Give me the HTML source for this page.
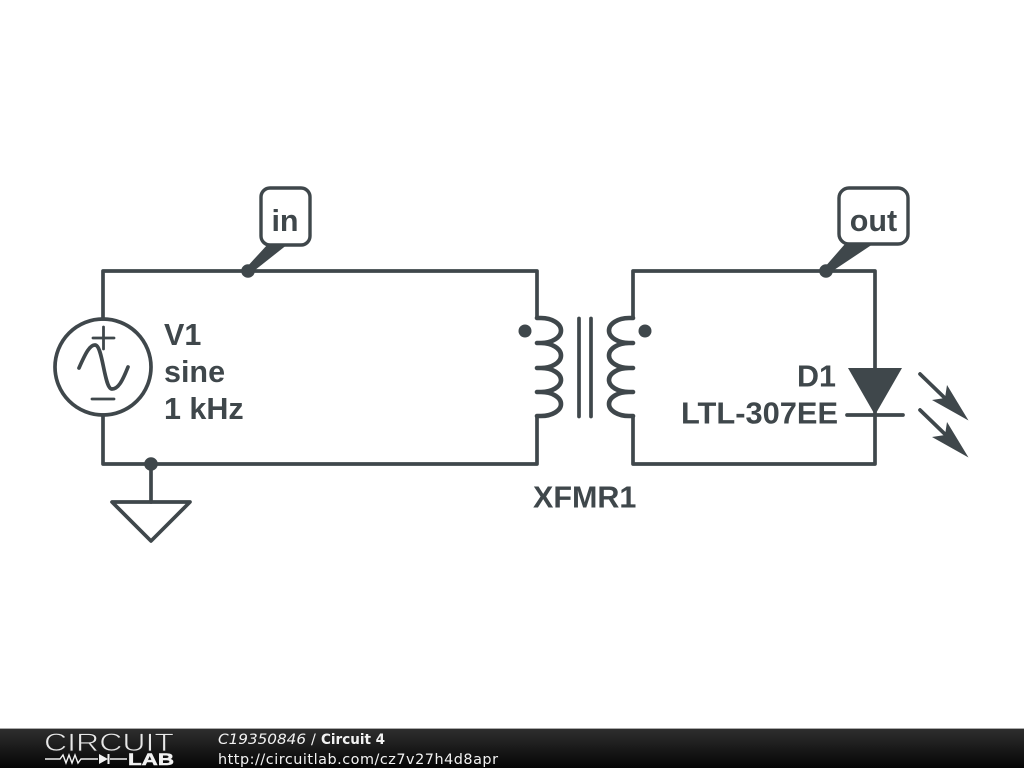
<!DOCTYPE html>
<html>
<head>
<meta charset="utf-8">
<style>
html,body{margin:0;padding:0;background:#fff}
svg{display:block}
.t{font-family:"Liberation Sans",Arial,sans-serif;font-weight:bold;font-size:30.500px;fill:#3f474b}
.f{font-family:"DejaVu Sans",sans-serif;font-size:14.400px;fill:#f2f2f2}
</style>
</head>
<body>
<svg width="1024" height="768" viewBox="0 0 1024 768" xmlns="http://www.w3.org/2000/svg">
<defs>
<linearGradient id="bar" x1="0" y1="0" x2="0" y2="1">
<stop offset="0" stop-color="#2e2e2e"/>
<stop offset="1" stop-color="#050505"/>
</linearGradient>
</defs>
<rect width="1024" height="768" fill="#fff"/>
<g fill="none" stroke="#3f474b" stroke-width="3.700" stroke-linecap="round" stroke-linejoin="round">
<path d="M103 319V271H537V318"/>
<path d="M103 415V464H537V416"/>
<circle cx="103" cy="367" r="48"/>
<path d="M79 368C86 352 90 345 95 345C103 345 104 389 112 389C118 389 122 382 128 367"/>
<path d="M93 338H114M103.500 327V349M92 399H114" stroke-width="2.800"/>
<path d="M151 464V502"/>
<path d="M112 502H190L151 541Z"/>
<g stroke-width="4.600">
<path d="M537 318H541A20 12.500 0 0 1 541 343H537M541 343A20 12.500 0 0 1 541 368H537M541 368A20 12 0 0 1 541 392H537M541 392A20 12 0 0 1 541 416H537"/>
<path d="M633 318H629A20 12.500 0 0 0 629 343H633M629 343A20 12.500 0 0 0 629 368H633M629 368A20 12 0 0 0 629 392H633M629 392A20 12 0 0 0 629 416H633"/>
</g>
<path d="M579 318.500V416.500M591 318.500V416.500"/>
<path d="M633 318V271H875V464H633V416"/>
<path d="M847 415H903"/>
<path d="M920 374L950 403M920 410L950 439"/>
<rect x="261" y="188" width="49" height="57" rx="9" stroke-width="3.400"/>
<rect x="839" y="188" width="69" height="56" rx="10" stroke-width="3.400"/>
</g>
<g fill="#3f474b">
<path d="M848 368H902L875 415Z"/>
<path d="M968.500 420.500L947 385L945 398L932 400Z"/>
<path d="M968.500 457.500L947 422L945 435L932 437Z"/>
<circle cx="248" cy="271" r="6.800"/>
<circle cx="151" cy="464" r="6.800"/>
<circle cx="826" cy="271" r="6.800"/>
<circle cx="525" cy="331" r="6.500"/>
<circle cx="645" cy="331" r="6.500"/>
<path d="M246 268L268 244H288L250 274Z"/>
<path d="M824 268L845 244H873L828 274Z"/>
</g>
<text class="t" x="164" y="345">V1</text>
<text class="t" x="164" y="382">sine</text>
<text class="t" x="164" y="419">1 kHz</text>
<text class="t" x="285" y="231" text-anchor="middle">in</text>
<text class="t" x="873.500" y="231" text-anchor="middle">out</text>
<text class="t" x="836" y="386.500" text-anchor="end">D1</text>
<text class="t" x="838" y="423.500" text-anchor="end" textLength="157" lengthAdjust="spacingAndGlyphs">LTL-307EE</text>
<text class="t" x="533" y="507.500">XFMR1</text>
<rect x="0" y="728" width="1024" height="1" fill="#aaa"/>
<rect x="0" y="729" width="1024" height="39" fill="url(#bar)"/>
<text x="44" y="751" font-family="'Liberation Sans',sans-serif" font-size="25" fill="#e8e8e8" stroke="#222" stroke-width="0.700" textLength="130" lengthAdjust="spacingAndGlyphs">CIRCUIT</text>
<g fill="none" stroke="#f2f2f2" stroke-width="1.400">
<path d="M45 759H60L63 755L66 763L69 755L72 763L75 755L78 763L81 759H98M110 759H127"/>
<path d="M108.500 754V764" stroke-width="2"/>
</g>
<path d="M99 754L108 759L99 764Z" fill="#f2f2f2"/>
<text x="128" y="765" font-family="'Liberation Sans',sans-serif" font-weight="bold" font-size="16.500" fill="#f2f2f2" stroke="#f2f2f2" stroke-width="0.500" textLength="46" lengthAdjust="spacingAndGlyphs">LAB</text>
<text class="f" x="218" y="744" font-style="italic" textLength="88" lengthAdjust="spacingAndGlyphs">C19350846</text>
<text class="f" x="311" y="744">/</text>
<text class="f" x="321" y="744" font-weight="bold" textLength="64" lengthAdjust="spacingAndGlyphs">Circuit 4</text>
<text class="f" x="218" y="764" textLength="280">http://circuitlab.com/cz7v27h4d8apr</text>
</svg>
</body>
</html>
